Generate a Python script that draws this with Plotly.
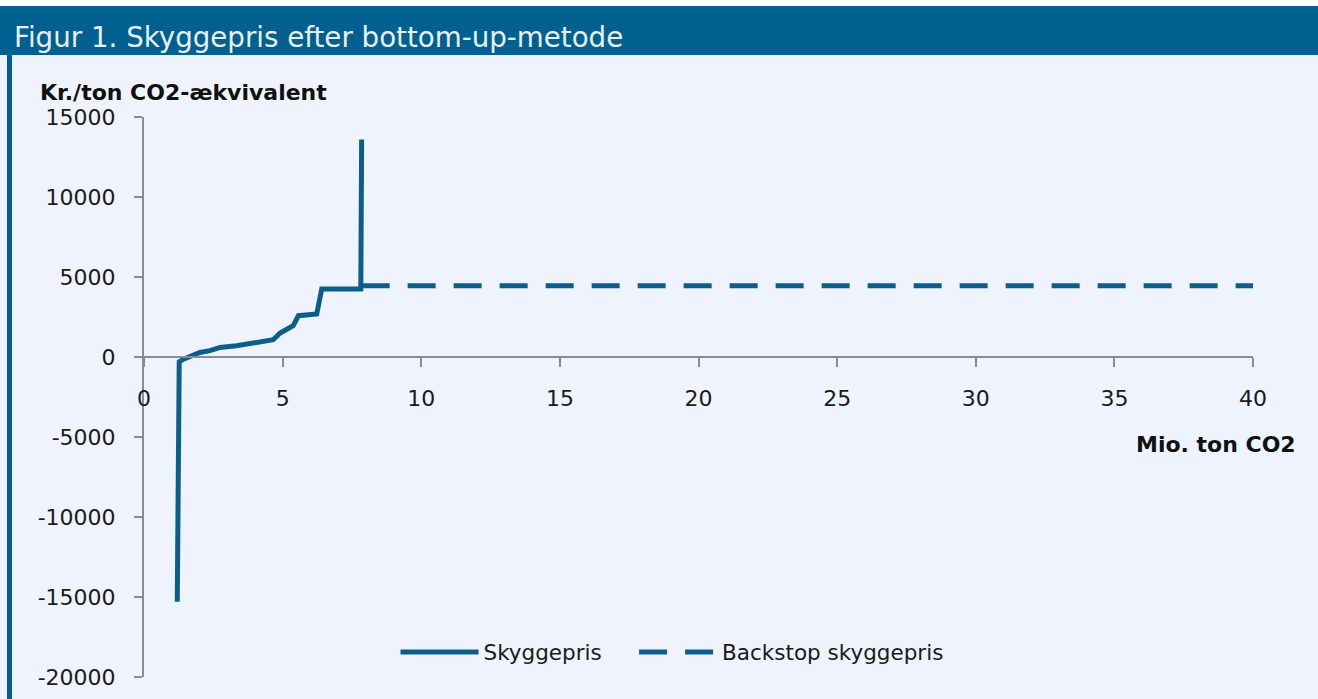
import plotly.graph_objects as go

# Data
sky_x = [1.20, 1.27, 1.40, 1.66, 2.02, 2.38, 2.74, 3.34, 3.94, 4.66, 4.91, 5.38, 5.57, 6.23, 6.41, 7.82, 7.85]
sky_y = [-15300, -300, -150, 60, 280, 400, 600, 700, 870, 1080, 1500, 1960, 2580, 2690, 4250, 4250, 13600]
backstop_x = [7.85, 40]
backstop_y = [4450, 4450]

x_ticks = [0, 5, 10, 15, 20, 25, 30, 35, 40]
y_ticks = [-20000, -15000, -10000, -5000, 0, 5000, 10000, 15000]
y_tick_labels = ["-20000", "-15000", "-10000", "-5000", "0", "5000", "10000", "15000"]

title_text = "Figur 1. Skyggepris efter bottom-up-metode"
y_title = "Kr./ton CO2-ækvivalent"
x_title = "Mio. ton CO2"

LINE = "#0B5D8B"
BG = "#EFF3FE"
BAND = "#00608F"
AXIS = "#8C8C8C"
FONT = "DejaVu Sans"

W, H = 1318, 699
L, R, T, B = 144, 65, 117, 22
PW, PH = W - L - R, H - T - B


def px(x):
    return (x - L) / PW


def py(y):
    return (H - B - y) / PH


fig = go.Figure()
fig.add_trace(go.Scatter(x=sky_x, y=sky_y, mode="lines", name="Skyggepris\u00a0\u00a0\u00a0\u00a0",
                         line=dict(color=LINE, width=5)))
fig.add_trace(go.Scatter(x=backstop_x, y=backstop_y, mode="lines", name="Backstop skyggepris",
                         line=dict(color=LINE, width=5, dash="28px,18px")))

fig.update_layout(
    width=W, height=H,
    margin=dict(l=L, r=R, t=T, b=B, autoexpand=False),
    paper_bgcolor=BG, plot_bgcolor=BG,
    font=dict(family=FONT, size=21, color="#1A1A1A"),
    showlegend=True,
    legend=dict(orientation="h", x=px(672), y=py(652), xanchor="center", yanchor="middle",
                bgcolor="rgba(0,0,0,0)", itemwidth=78, font=dict(size=21.5),
                tracegroupgap=0),
    xaxis=dict(range=[0, 40], tickvals=x_ticks, showline=True, linecolor=AXIS, linewidth=2,
               ticks="outside", ticklen=9, tickwidth=2, tickcolor=AXIS, showgrid=False,
               zeroline=False, anchor="free", position=20000 / 35000,
               ticklabelstandoff=13, tickfont=dict(size=22)),
    yaxis=dict(range=[-20000, 15000], tickvals=y_ticks, ticktext=y_tick_labels, showline=True,
               linecolor=AXIS, linewidth=2,
               ticks="outside", ticklen=8, tickwidth=2, tickcolor=AXIS, showgrid=False,
               zeroline=False, ticklabelstandoff=14, tickfont=dict(size=22)),
    shapes=[
        dict(type="rect", xref="paper", yref="paper", x0=px(0), x1=px(W), y0=py(6), y1=py(0),
             fillcolor="white", line=dict(width=0), layer="above"),
        dict(type="rect", xref="paper", yref="paper", x0=px(0), x1=px(W), y0=py(55), y1=py(6),
             fillcolor=BAND, line=dict(width=0), layer="above"),
        dict(type="rect", xref="paper", yref="paper", x0=px(7), x1=px(12), y0=py(H), y1=py(55),
             fillcolor=BAND, line=dict(width=0), layer="above"),
    ],
    annotations=[
        dict(text=title_text, xref="paper", yref="paper", x=px(12), y=py(37), xanchor="left",
             yanchor="middle", showarrow=False, font=dict(size=27.7, color="#E8F0F7", family=FONT)),
        dict(text="<b>" + y_title + "</b>", xref="paper", yref="paper", x=px(38), y=py(93),
             xanchor="left", yanchor="middle", showarrow=False, font=dict(size=22, color="#111111")),
        dict(text="<b>" + x_title + "</b>", xref="paper", yref="paper", x=px(1298), y=py(445),
             xanchor="right", yanchor="middle", showarrow=False, font=dict(size=22, color="#111111")),
    ],
)

fig.write_html("out.html", config={"displayModeBar": False},
               post_script="document.body.style.margin='0';")
